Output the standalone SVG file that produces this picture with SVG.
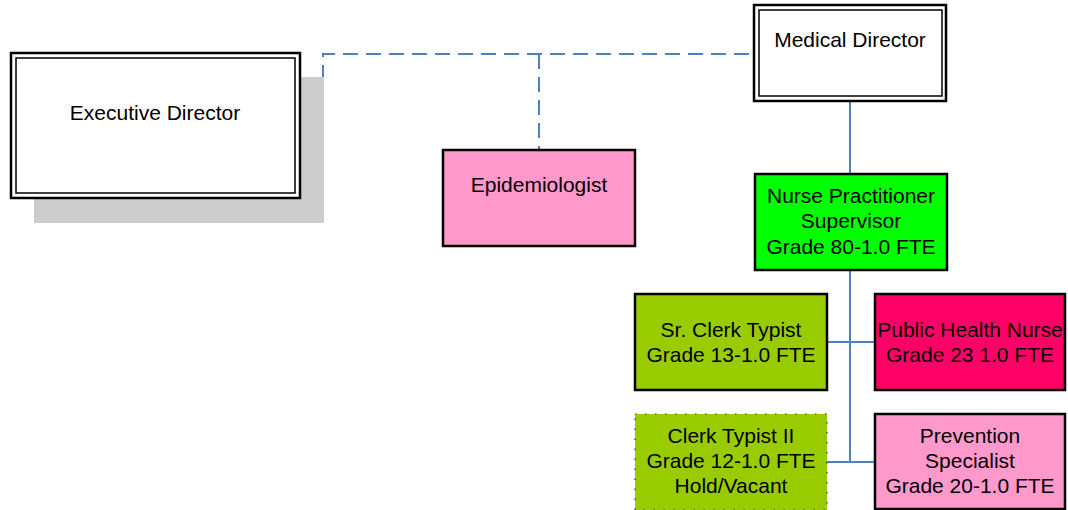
<svg xmlns="http://www.w3.org/2000/svg" width="1068" height="510" viewBox="0 0 1068 510">
<style>
text{font-family:"Liberation Sans",Arial,sans-serif;font-size:21px;fill:#000;text-anchor:middle}
.box{stroke:#000;stroke-width:2.5}
.dbl{fill:#fff;stroke:#000;stroke-width:2.5}
.in{fill:none;stroke:#000;stroke-width:1.5}
.solid{fill:none;stroke:#4F81BD;stroke-width:2}
.dash{fill:none;stroke:#4F81BD;stroke-width:2;stroke-dasharray:15 8}
</style>
<rect width="1068" height="510" fill="#fff"/>
<g id="connectors">
<path class="dash" d="M300 126 H323 V54 H750"/>
<path class="dash" d="M539 54 V150"/>
<path class="solid" d="M850 101 V174"/>
<path class="solid" d="M850 270 V462"/>
<path class="solid" d="M827 342 H875"/>
<path class="solid" d="M827 462 H875"/>
</g>
<g id="executive-director">
<rect x="34" y="77" width="290" height="146" fill="#ccc"/>
<rect class="dbl" x="11" y="53" width="289" height="145"/>
<rect class="in" x="16" y="58" width="279" height="135"/>
<text x="155" y="120">Executive Director</text>
</g>
<g id="medical-director">
<rect class="dbl" x="754" y="5" width="192" height="96"/>
<rect class="in" x="759" y="10" width="183" height="86"/>
<text x="850" y="47">Medical Director</text>
</g>
<g id="epidemiologist">
<rect class="box" x="443" y="150" width="192" height="96" fill="#FF99CC"/>
<text x="539" y="192">Epidemiologist</text>
</g>
<g id="np-supervisor">
<rect class="box" x="755" y="174" width="192" height="96" fill="#00FF00"/>
<text x="851" y="203">Nurse Practitioner</text>
<text x="851" y="228">Supervisor</text>
<text x="851" y="254">Grade 80-1.0 FTE</text>
</g>
<g id="sr-clerk-typist">
<rect class="box" x="635" y="294" width="192" height="96" fill="#99CC00"/>
<text x="731" y="337">Sr. Clerk Typist</text>
<text x="731" y="362">Grade 13-1.0 FTE</text>
</g>
<g id="public-health-nurse">
<rect class="box" x="875" y="294" width="190" height="96" fill="#FF0066"/>
<text x="970" y="337">Public Health Nurse</text>
<text x="970" y="362">Grade 23 1.0 FTE</text>
</g>
<g id="clerk-typist-ii">
<rect x="635" y="414" width="192" height="96" fill="#99CC00" stroke="#333" stroke-width="1.2" stroke-dasharray="1.5 8.5"/>
<text x="731" y="443">Clerk Typist II</text>
<text x="731" y="468">Grade 12-1.0 FTE</text>
<text x="731" y="493">Hold/Vacant</text>
</g>
<g id="prevention-specialist">
<rect class="box" x="875" y="414" width="190" height="95" fill="#FF99CC"/>
<text x="970" y="443">Prevention</text>
<text x="970" y="468">Specialist</text>
<text x="970" y="493">Grade 20-1.0 FTE</text>
</g>
</svg>
